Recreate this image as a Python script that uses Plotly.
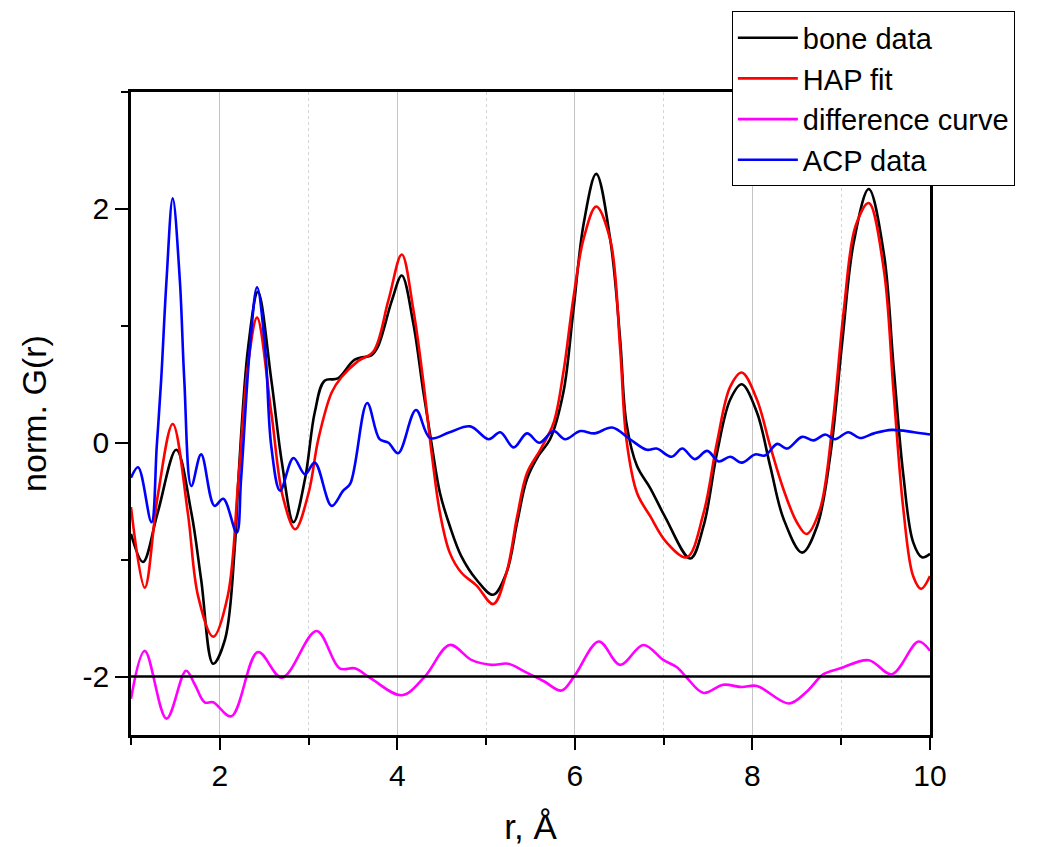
import plotly.graph_objects as go

# ---------------- data ----------------
r_bone = [1.00, 1.135, 1.30, 1.51, 1.68, 1.79, 1.925, 2.06, 2.17, 2.21, 2.32, 2.43, 2.58, 2.70, 2.83,
          2.96, 3.07, 3.18, 3.33, 3.52, 3.71, 3.78, 3.94, 4.05, 4.18, 4.29, 4.39, 4.48, 4.59, 4.72,
          4.89, 5.08, 5.23, 5.35, 5.46, 5.59, 5.72, 5.87, 5.98, 6.10, 6.24, 6.40, 6.51, 6.58, 6.70,
          6.85, 7.02, 7.30, 7.45, 7.60, 7.75, 7.88, 8.05, 8.20, 8.35, 8.56, 8.73, 8.88, 9.01, 9.14,
          9.31, 9.48, 9.59, 9.70, 9.81, 9.91, 10.0]
g_bone = [-0.78, -1.02, -0.60, -0.06, -0.60, -1.17, -1.89, -1.68, -0.88, -0.31, 0.82, 1.29, 0.54, -0.17, -0.68,
          -0.31, 0.26, 0.53, 0.55, 0.71, 0.75, 0.82, 1.22, 1.43, 1.02, 0.45, -0.03, -0.43, -0.71, -0.97,
          -1.17, -1.30, -1.11, -0.68, -0.31, -0.11, 0.03, 0.43, 1.11, 1.88, 2.30, 1.73, 0.88, 0.17, -0.20,
          -0.39, -0.64, -0.99, -0.71, -0.09, 0.37, 0.50, 0.26, -0.20, -0.65, -0.94, -0.71, -0.09, 0.85, 1.71,
          2.17, 1.62, 0.65, -0.28, -0.85, -0.98, -0.95]

r_hap = [1.00, 1.155, 1.30, 1.47, 1.64, 1.755, 1.925, 2.09, 2.21, 2.32, 2.42, 2.58, 2.71, 2.85, 3.00,
         3.11, 3.26, 3.37, 3.56, 3.73, 3.90, 4.05, 4.18, 4.29, 4.39, 4.48, 4.59, 4.72, 4.89, 5.08,
         5.23, 5.35, 5.46, 5.61, 5.76, 5.87, 5.98, 6.10, 6.24, 6.40, 6.51, 6.58, 6.70, 6.85, 7.03,
         7.26, 7.45, 7.60, 7.75, 7.88, 8.05, 8.20, 8.35, 8.50, 8.61, 8.76, 8.90, 9.03, 9.16, 9.31,
         9.48, 9.59, 9.70, 9.81, 9.90, 10.0]
g_hap = [-0.55, -1.24, -0.46, 0.16, -0.60, -1.31, -1.66, -1.31, -0.31, 0.68, 1.07, 0.26, -0.46, -0.74, -0.43,
         0.03, 0.43, 0.56, 0.70, 0.78, 1.22, 1.61, 1.14, 0.54, -0.11, -0.60, -0.94, -1.11, -1.22, -1.38,
         -1.11, -0.63, -0.26, -0.06, 0.17, 0.60, 1.22, 1.75, 2.02, 1.73, 0.80, 0.03, -0.43, -0.63, -0.85,
         -0.98, -0.60, 0.00, 0.48, 0.60, 0.37, -0.03, -0.40, -0.68, -0.78, -0.57, 0.14, 1.14, 1.85, 2.05,
         1.48, 0.43, -0.57, -1.14, -1.25, -1.14]

r_diff = [1.00, 1.155, 1.40, 1.62, 1.72, 1.83, 1.925, 2.13, 2.43, 2.70, 3.09, 3.35, 3.52, 3.71, 4.05,
          4.31, 4.59, 4.84, 5.06, 5.25, 5.44, 5.65, 5.85, 6.00, 6.27, 6.51, 6.77, 7.00, 7.15, 7.26,
          7.45, 7.67, 7.88, 8.05, 8.41, 8.61, 8.80, 8.99, 9.31, 9.57, 9.87, 10.0]
g_diff = [-2.19, -1.78, -2.36, -1.95, -2.07, -2.22, -2.22, -2.34, -1.79, -2.01, -1.61, -1.93, -1.93, -2.02, -2.16,
          -2.00, -1.73, -1.86, -1.90, -1.89, -1.96, -2.04, -2.12, -1.99, -1.70, -1.90, -1.73, -1.86, -1.92, -2.01,
          -2.14, -2.07, -2.09, -2.08, -2.23, -2.13, -1.98, -1.93, -1.86, -1.98, -1.70, -1.78]

r_acp = [1.00, 1.08, 1.23, 1.29, 1.34, 1.40, 1.47, 1.55, 1.60, 1.68, 1.79, 1.94, 2.04, 2.19, 2.24,
         2.34, 2.42, 2.51, 2.58, 2.68, 2.83, 2.96, 3.07, 3.26, 3.39, 3.47, 3.66, 3.80, 3.90, 4.01,
         4.21, 4.37, 4.59, 4.82, 5.03, 5.16, 5.31, 5.46, 5.60, 5.76, 5.89, 6.06, 6.22, 6.42, 6.62,
         6.81, 6.92, 7.09, 7.21, 7.35, 7.49, 7.62, 7.75, 7.88, 8.03, 8.14, 8.28, 8.39, 8.56, 8.69,
         8.82, 8.93, 9.08, 9.21, 9.37, 9.57, 9.82, 10.0]
g_acp = [-0.30, -0.21, -0.68, -0.03, 0.54, 1.39, 2.09, 1.39, 0.54, -0.37, -0.10, -0.54, -0.48, -0.77, -0.31,
         0.82, 1.33, 0.82, -0.03, -0.41, -0.13, -0.27, -0.17, -0.54, -0.41, -0.35, 0.34, 0.03, 0.00, -0.09,
         0.28, 0.04, 0.09, 0.14, 0.03, 0.09, -0.04, 0.08, 0.00, 0.10, 0.03, 0.10, 0.08, 0.13, 0.03,
         -0.06, -0.05, -0.12, -0.05, -0.14, -0.07, -0.16, -0.12, -0.17, -0.10, -0.11, -0.01, -0.05, 0.05, 0.02,
         0.07, 0.03, 0.09, 0.04, 0.08, 0.11, 0.09, 0.07]

DIFF_BASELINE = -2
x_range = [1, 10]
y_range = [-2.5, 3]
y_tickvals = [-2, 0, 2]
y_ticktext = ["-2", "0", "2"]
y_minor_ticks = [-1, 1, 3]

FONT = "Arial, Liberation Sans, sans-serif"

fig = go.Figure()
series = [
    ("bone data", r_bone, g_bone, "#000000"),
    ("HAP fit", r_hap, g_hap, "#ff0000"),
    ("difference curve", r_diff, g_diff, "#ff00ff"),
    ("ACP data", r_acp, g_acp, "#0000ff"),
]
for name, xs, ys, col in series:
    fig.add_trace(go.Scatter(x=xs, y=ys, name=name, mode="lines",
                             line=dict(color=col, width=2.6, shape="spline", smoothing=1.0)))

# reference line of the difference curve
fig.add_shape(type="line", xref="paper", x0=0, x1=1, yref="y", y0=DIFF_BASELINE, y1=DIFF_BASELINE,
              line=dict(color="black", width=2.5), layer="above")

# the page body adds an 8px margin, so the figure is sized to fit inside the window
fig.update_layout(
    width=1053, height=839,
    margin=dict(l=123, r=131, t=84, b=112, autoexpand=False),
    paper_bgcolor="white", plot_bgcolor="white",
    font=dict(family=FONT, size=30, color="black"),
    showlegend=True,
    legend=dict(x=0.752, xref="paper", y=0.996, yref="container", xanchor="left", yanchor="top",
                bgcolor="white", bordercolor="black", borderwidth=1,
                font=dict(family=FONT, size=29, color="black"),
                tracegroupgap=0, itemwidth=60),
    xaxis=dict(range=x_range, tickmode="linear", tick0=0, dtick=2,
               ticks="outside", ticklen=12, tickwidth=2, tickcolor="black",
               showline=True, linecolor="black", linewidth=2.5, mirror=True,
               showgrid=True, gridcolor="#c4c4c4", gridwidth=1, zeroline=False,
               tickfont=dict(size=30),
               title=dict(text="r, Å", font=dict(size=35), standoff=24),
               minor=dict(dtick=1, tick0=0, ticks="outside", ticklen=7, tickwidth=2, tickcolor="black",
                          showgrid=True, gridcolor="#d4d4d4", griddash="dot", gridwidth=1)),
    yaxis=dict(range=y_range, tickmode="array", tickvals=y_tickvals, ticktext=y_ticktext,
               ticks="outside", ticklen=13, tickwidth=2, tickcolor="black",
               showline=True, linecolor="black", linewidth=2.5, mirror=True,
               showgrid=False, zeroline=False,
               tickfont=dict(size=30),
               title=dict(text="norm. G(r)", font=dict(size=34), standoff=26),
               minor=dict(tickmode="array", tickvals=y_minor_ticks, ticks="outside", ticklen=7,
                          tickwidth=2, tickcolor="black", showgrid=False)),
)

fig.write_html("out.html")
